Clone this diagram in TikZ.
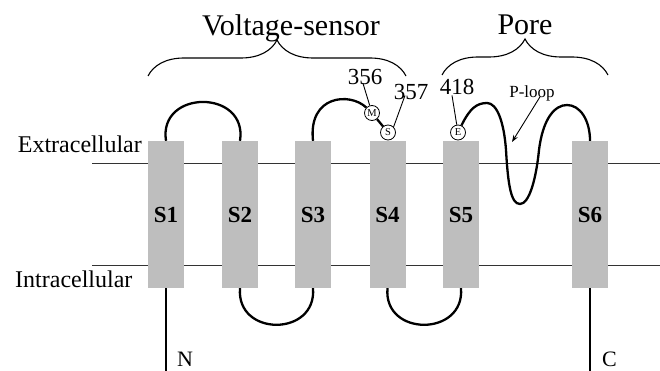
\documentclass[tikz,border=0pt]{standalone}
\usepackage{fontspec}
\setmainfont{Liberation Serif}
\usetikzlibrary{decorations.pathreplacing,arrows.meta}
\definecolor{helixgray}{RGB}{190,190,190}
\tikzset{
  helix/.style={rectangle, fill=helixgray, minimum width=36pt, minimum height=147pt, inner sep=0pt,
    font=\fontsize{23}{26}\selectfont\bfseries},
  membrane/.style={line width=0.9pt, black!80},
  chain/.style={line width=2.3pt, black},
  residue/.style={circle, draw=black, line width=0.8pt, fill=white, inner sep=0pt, minimum size=15pt,
    font=\fontsize{10.5}{11}\selectfont},
  bigtext/.style={inner sep=0pt, anchor=base, font=\fontsize{30}{34}\selectfont},
  sidetext/.style={inner sep=0pt, font=\fontsize{24}{28}\selectfont},
  numtext/.style={inner sep=0pt, anchor=base, font=\fontsize{23}{26}\selectfont},
  endtext/.style={inner sep=0pt, anchor=base west, font=\fontsize{22}{24}\selectfont},
  pointer/.style={line width=0.9pt, black},
  bracestyle/.style={line width=1.1pt, decorate, decoration={brace, amplitude=36pt}},
}
\begin{document}
\begin{tikzpicture}[x=1pt,y=-1pt]
\useasboundingbox (0,0) rectangle (660,371);
% membrane lines
\coordinate (exL) at (92,163);
\coordinate (exR) at (660,163);
\coordinate (inL) at (92,265);
\coordinate (inR) at (660,265);
\draw[membrane] (exL) -- (exR);
\draw[membrane] (inL) -- (inR);
% helices
\node[helix] (s1) at (166,214.5) {S1};
\node[helix] (s2) at (240,214.5) {S2};
\node[helix] (s3) at (313,214.5) {S3};
\node[helix] (s4) at (387.5,214.5) {S4};
\node[helix] (s5) at (461,214.5) {S5};
\node[helix] (s6) at (590,214.5) {S6};
% side labels
\node[sidetext, anchor=base east] (extra) at (142,153) {Extracellular};
\node[sidetext, anchor=base west] (intra) at (15,287) {Intracellular};
% residues
\node[residue] (m) at (372,113) {M};
\node[residue] (sr) at (388,132.5) {S};
\node[residue] (e) at (458,132.5) {E};
% loops
\draw[chain] (s1.north) .. controls (158,89) and (248,89) .. (s2.north);
\draw[chain] (s2.south) .. controls (236,337) and (317,337) .. (s3.south);
\draw[chain] (s3.north) .. controls (308,95) and (350,92) .. (m);
\draw[chain] (m) -- (sr);
\draw[chain] (s4.south) .. controls (383,337) and (465,337) .. (s5.south);
\draw[chain] (e) .. controls (470,108) and (477,103) .. (487,103)
  .. controls (497,103) and (504,122) .. (506,150)
  .. controls (508,185) and (511,204) .. (520,204)
  .. controls (529,204) and (536,180) .. (539,150)
  .. controls (543,118) and (555,105) .. (567,105)
  .. controls (580,105) and (590,120) .. (s6.north);
% termini
\coordinate (nend) at (166,371);
\coordinate (cend) at (590,371);
\draw[chain] (s1.south) -- (nend);
\draw[chain] (s6.south) -- (cend);
\node[endtext] (nlab) at (177,366) {N};
\node[endtext] (clab) at (602,366) {C};
% residue numbers
\node[numtext] (l356) at (365,85) {356};
\node[numtext] (l357) at (411,100) {357};
\node[numtext] (l418) at (457,95) {418};
\draw[pointer] ([xshift=-2pt,yshift=2pt]l356.south) -- (m);
\draw[pointer] ([xshift=-6pt,yshift=5pt]l357.south) -- (sr.north east);
\draw[pointer] ([xshift=-5pt,yshift=0pt]l418.south) -- (e);
% P-loop
\node[inner sep=0pt, anchor=base, font=\fontsize{17}{20}\selectfont] (ploop) at (532,98) {P-loop};
\coordinate (ptip) at (512,142);
\draw[pointer, -{Stealth[length=7pt,width=5pt]}] ([xshift=8pt,yshift=5pt]ploop.south) -- (ptip);
% braces
\coordinate (vb1) at (148,76);
\coordinate (vb2) at (406,76);
\coordinate (pb1) at (442,75);
\coordinate (pb2) at (608,75);
\draw[bracestyle] (vb1) -- (vb2);
\draw[bracestyle] (pb1) -- (pb2);
\node[bigtext] (vs) at (291,36) {Voltage-sensor};
\node[bigtext] (pore) at (525,35) {Pore};
\end{tikzpicture}
\end{document}
